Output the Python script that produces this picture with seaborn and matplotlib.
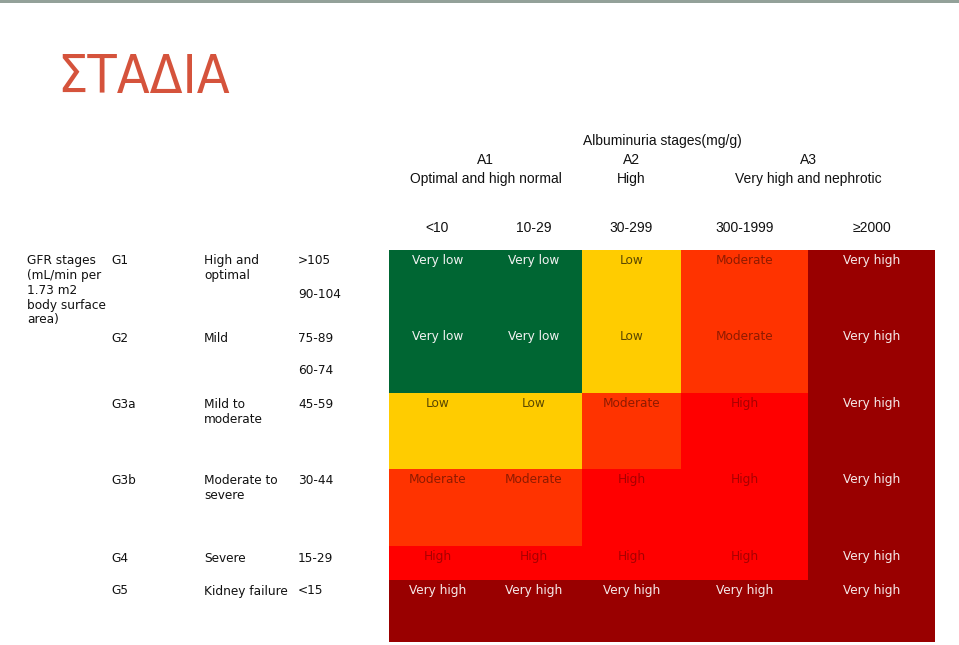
import numpy as np
import pandas as pd
import matplotlib
matplotlib.use("Agg")
import matplotlib.pyplot as plt
from matplotlib.colors import ListedColormap
from matplotlib.patches import Rectangle
import matplotlib.transforms as mtransforms
import seaborn as sns

# ---------------- data ----------------
title = "ΣΤΑΔΙΑ"
albu_title = "Albuminuria stages(mg/g)"
albu_groups = ["A1", "A2", "A3"]
albu_group_desc = ["Optimal and high normal", "High", "Very high and nephrotic"]
albu_group_cols = [[0, 1], [2], [3, 4]]
albu_ranges = ["<10", "10-29", "30-299", "300-1999", "≥2000"]

gfr_stages = ["G1", "G2", "G3a", "G3b", "G4", "G5"]
gfr_desc = ["High and\noptimal", "Mild", "Mild to\nmoderate", "Moderate to\nsevere",
            "Severe", "Kidney failure"]
gfr_ranges = [[">105", "90-104"], ["75-89", "60-74"], ["45-59"], ["30-44"], ["15-29"], ["<15"]]
gfr_title = "GFR stages\n(mL/min per\n1.73 m2\nbody surface\narea)"

risk_labels = ["Very low", "Low", "Moderate", "High", "Very high"]
risk = [
    [0, 0, 1, 2, 4],
    [0, 0, 1, 2, 4],
    [1, 1, 2, 3, 4],
    [2, 2, 3, 3, 4],
    [3, 3, 3, 3, 4],
    [4, 4, 4, 4, 4],
]

# ---------------- style / layout ----------------
cell_colors = ["#006633", "#FFCC00", "#FF3300", "#FF0000", "#990000"]
text_colors = ["#F2F2F2", "#5A4700", "#8E1B00", "#A80000", "#F5E8E8"]
row_units = [76, 67, 76, 77, 34, 62]      # relative row heights
col_units = [97, 96, 99, 127, 127]        # relative column widths

W, H = 959, 645
fig = plt.figure(figsize=(W / 100, H / 100), dpi=100)
fig.patch.set_facecolor("white")


def fx(x):
    return x / W


def fy(y):
    return 1 - y / H


# expanded grid so that cells have the relative sizes of the original
mat = np.repeat(np.repeat(np.array(risk), row_units, axis=0), col_units, axis=1)
df = pd.DataFrame(mat)

ax = fig.add_axes([fx(389), fy(642), fx(935) - fx(389), fy(250) - fy(642)])
sns.heatmap(df, ax=ax, cmap=ListedColormap(cell_colors), vmin=-0.5, vmax=4.5,
            cbar=False, xticklabels=False, yticklabels=False, rasterized=True)

row_start = np.concatenate([[0], np.cumsum(row_units)[:-1]])
col_start = np.concatenate([[0], np.cumsum(col_units)[:-1]])
col_center = col_start + np.array(col_units) / 2.0

cell_font = dict(family=["DejaVu Sans"], size=8.7)
for i, row in enumerate(risk):
    for j, v in enumerate(row):
        ax.annotate(risk_labels[v], xy=(col_center[j], row_start[i]),
                    xytext=(0, -10.5), textcoords="offset pixels",
                    ha="center", va="center", color=text_colors[v], **cell_font)

# column range labels on top axis
ax.xaxis.tick_top()
ax.set_xticks(col_center)
ax.set_xticklabels(albu_ranges, family=["Liberation Sans", "DejaVu Sans"], fontsize=10,
                   color="#111111")
ax.tick_params(axis="x", length=0, pad=10.8)
ax.set_xlabel("")
ax.set_ylabel("")

# group headers (data x, figure y)
blend = mtransforms.blended_transform_factory(ax.transData, fig.transFigure)
hdr_font = dict(family=["Liberation Sans", "DejaVu Sans"], size=10, color="#111111")
fig.text(fx(662), fy(141), albu_title, ha="center", va="center", **hdr_font)
for g, d, cols in zip(albu_groups, albu_group_desc, albu_group_cols):
    xc = (col_start[cols[0]] + col_start[cols[-1]] + col_units[cols[-1]]) / 2.0
    ax.text(xc, fy(160), g, transform=blend, ha="center", va="center", **hdr_font)
    ax.text(xc, fy(179), d, transform=blend, ha="center", va="center", **hdr_font)

# left side labels
left_font = dict(family=["DejaVu Sans"], size=8.7, color="#111111")
stage_y = [260, 337, 404, 480, 557, 590]
range_y = [[260, 294], [337, 370], [404], [480], [557], [590]]
fig.text(fx(27), fy(260 - 5.5), gfr_title, ha="left", va="top", linespacing=1.17, **left_font)
for s, d, rr, y, ys in zip(gfr_stages, gfr_desc, gfr_ranges, stage_y, range_y):
    fig.text(fx(111), fy(y - 5.5), s, ha="left", va="top", **left_font)
    fig.text(fx(204), fy(y - 5.5), d, ha="left", va="top", linespacing=1.15, **left_font)
    for r, yy in zip(rr, ys):
        fig.text(fx(298), fy(yy - 5.5), r, ha="left", va="top", **left_font)

# title
fig.text(fx(57), fy(93), title, ha="left", va="baseline", color="#D5533C",
         family=["DejaVu Sans"], stretch="condensed", fontsize=38.5)

# top rule
fig.add_artist(Rectangle((0, fy(3)), 1, fy(0) - fy(3), transform=fig.transFigure,
                         facecolor="#93A199", edgecolor="none"))

fig.savefig("out.png", dpi=100, facecolor="white")
